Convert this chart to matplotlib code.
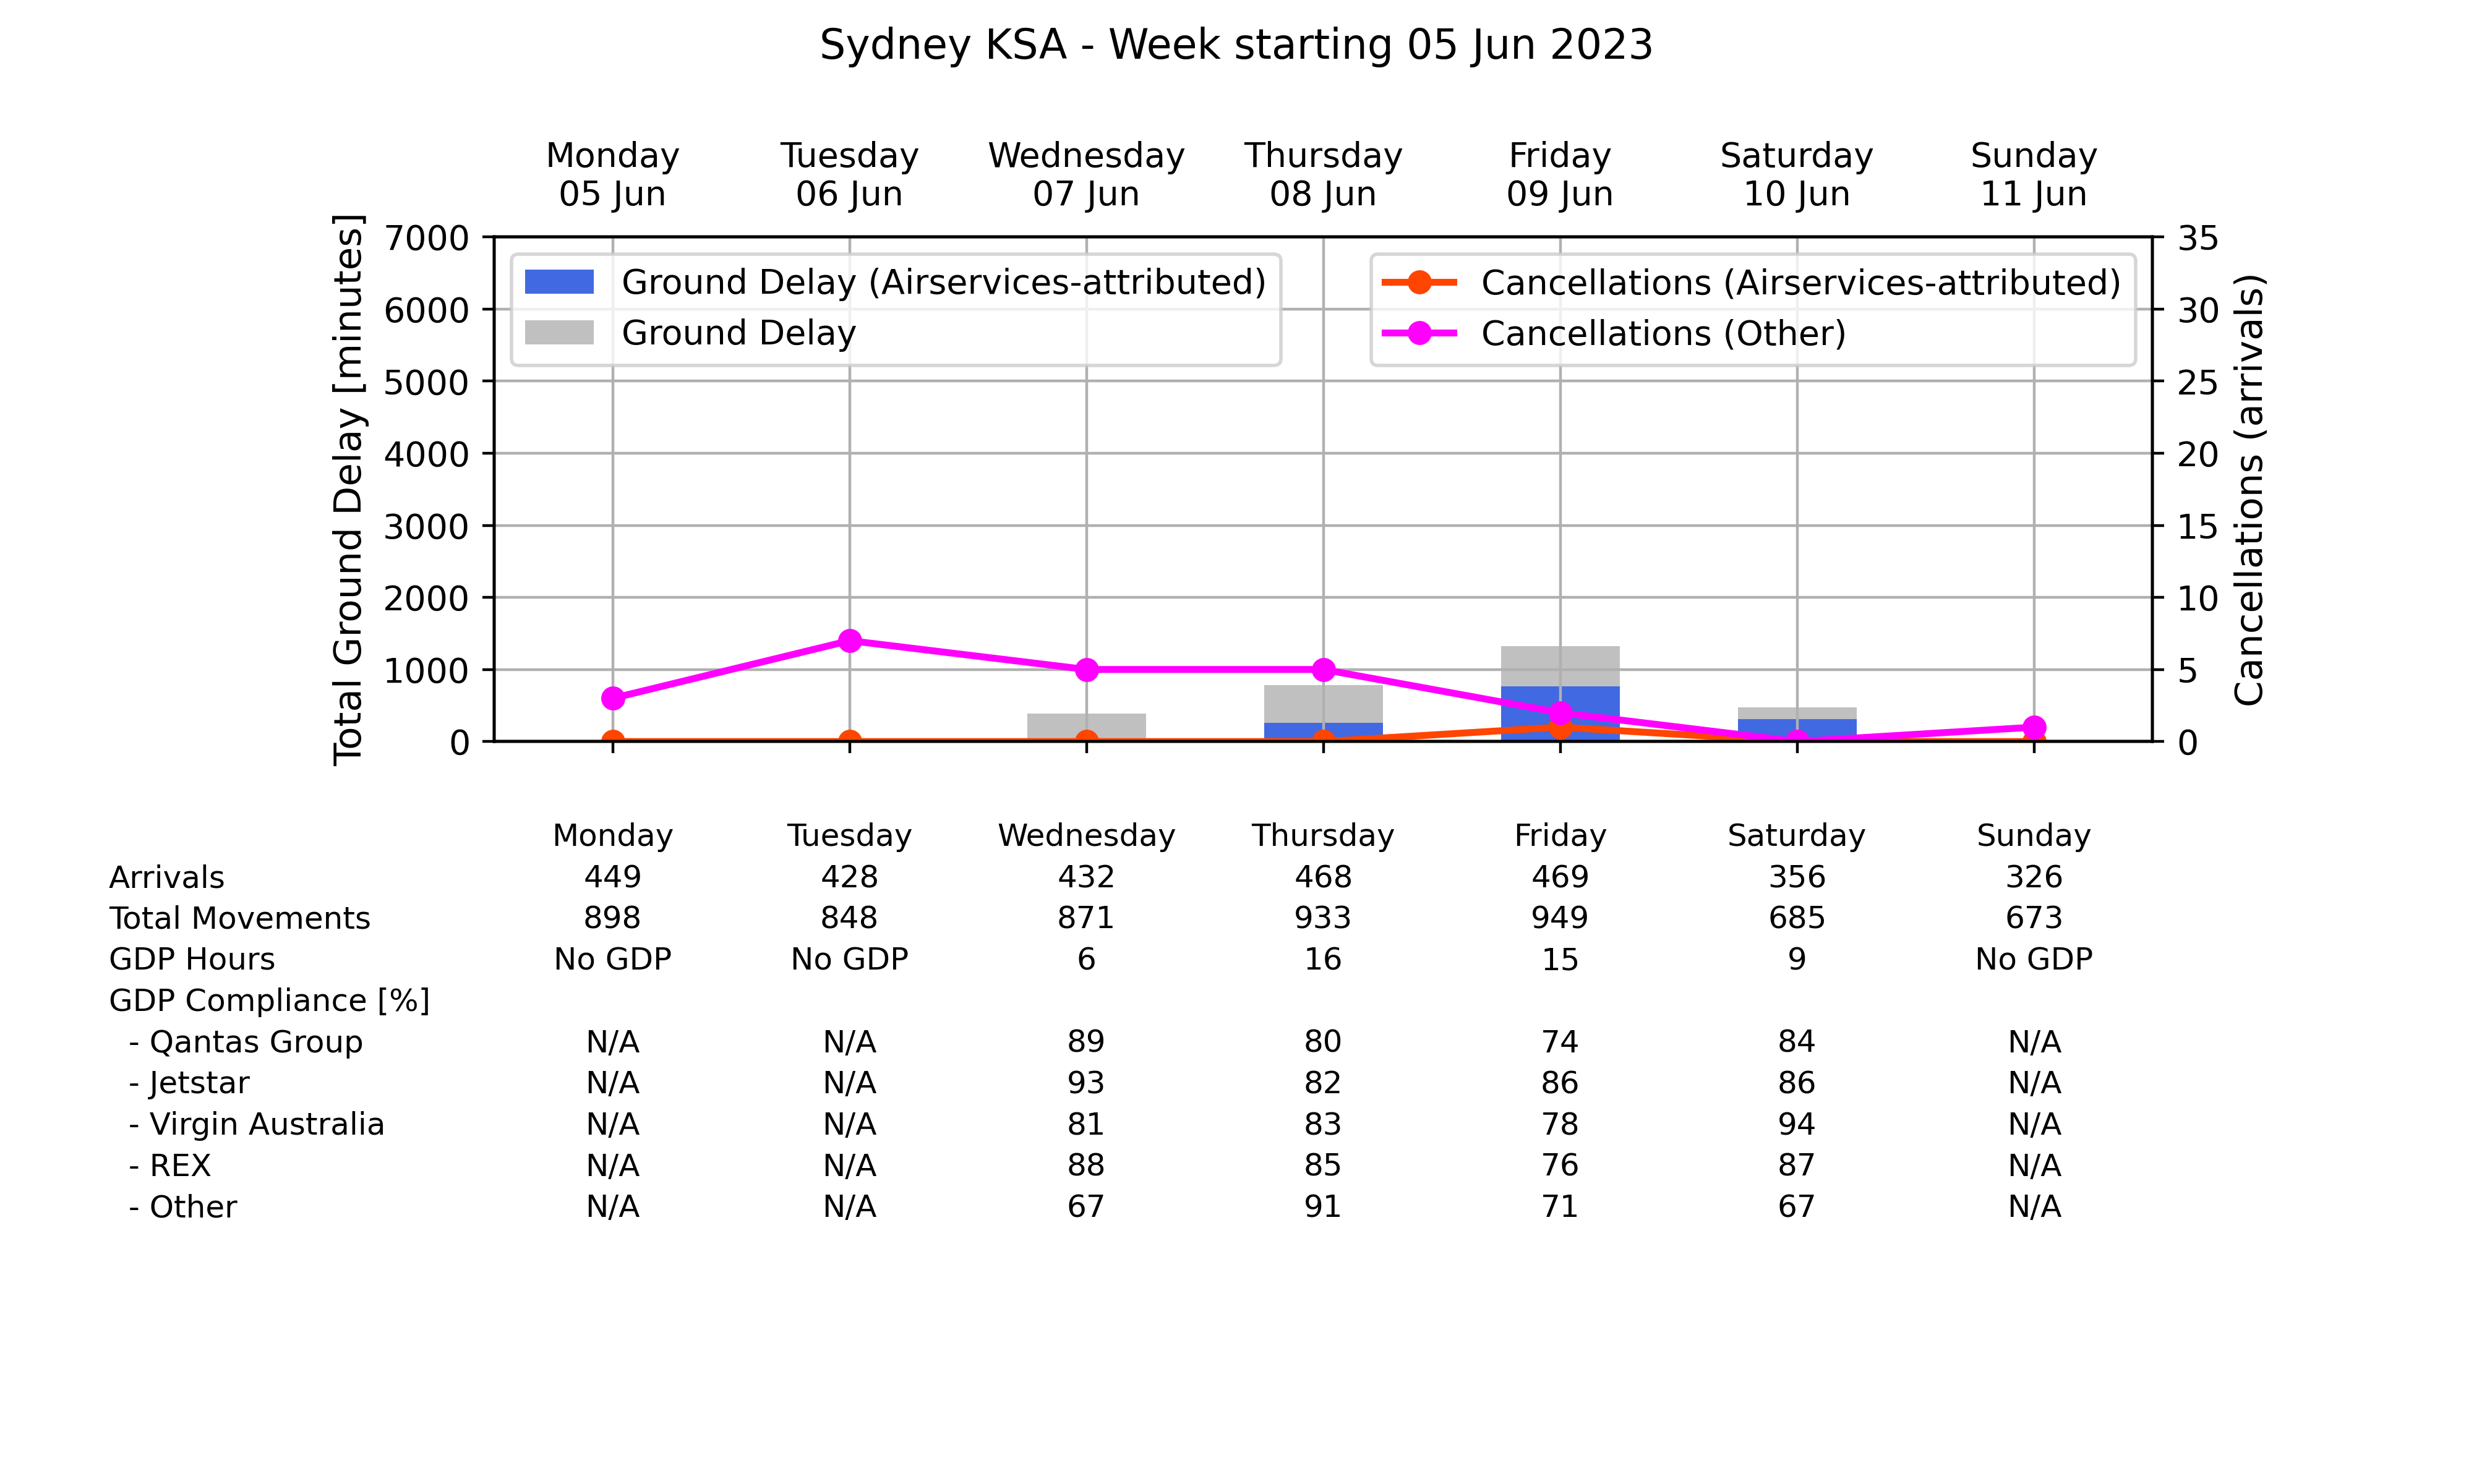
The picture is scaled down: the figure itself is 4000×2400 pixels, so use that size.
import matplotlib
matplotlib.use('Agg')
import matplotlib.pyplot as plt
import matplotlib.transforms as mtransforms

days = ['Monday', 'Tuesday', 'Wednesday', 'Thursday', 'Friday', 'Saturday', 'Sunday']
dates = ['05 Jun', '06 Jun', '07 Jun', '08 Jun', '09 Jun', '10 Jun', '11 Jun']

ground_delay_total = [0, 0, 390, 785, 1320, 470, 0]
ground_delay_asa = [0, 0, 0, 260, 770, 315, 0]
canx_asa = [0, 0, 0, 0, 1, 0, 0]
canx_other = [3, 7, 5, 5, 2, 0, 1]

row_labels = ['Arrivals', 'Total Movements', 'GDP Hours', 'GDP Compliance [%]',
              '  - Qantas Group', '  - Jetstar', '  - Virgin Australia', '  - REX', '  - Other']
arrivals = ['449', '428', '432', '468', '469', '356', '326']
movements = ['898', '848', '871', '933', '949', '685', '673']
gdp_hours = ['No GDP', 'No GDP', '6', '16', '15', '9', 'No GDP']
compliance_header = [''] * 7
qantas = ['N/A', 'N/A', '89', '80', '74', '84', 'N/A']
jetstar = ['N/A', 'N/A', '93', '82', '86', '86', 'N/A']
virgin = ['N/A', 'N/A', '81', '83', '78', '94', 'N/A']
rex = ['N/A', 'N/A', '88', '85', '76', '87', 'N/A']
other = ['N/A', 'N/A', '67', '91', '71', '67', 'N/A']
table_rows = [arrivals, movements, gdp_hours, compliance_header, qantas, jetstar, virgin, rex, other]

x = list(range(len(days)))

fig = plt.figure(figsize=(10, 6), dpi=400)
ax = fig.add_axes([0.1998, 0.5003, 0.6703, 0.340])

b_total = ax.bar(x, ground_delay_total, width=0.5, color='silver', label='Ground Delay')
b_asa = ax.bar(x, ground_delay_asa, width=0.5, color='royalblue', label='Ground Delay (Airservices-attributed)')
ax.set_xlim(-0.5, 6.5)
ax.set_ylim(0, 7000)
ax.set_yticks(range(0, 7001, 1000))
ax.set_xticks(x)
ax.set_xticklabels([])
ax.grid(True)
ax.set_ylabel('Total Ground Delay [minutes]', fontsize=11)
ax.tick_params(labelsize=10)
ax.legend(handles=[b_asa, b_total], loc='upper left', fontsize=10)

ax2 = ax.twinx()
l1, = ax2.plot(x, canx_asa, color='orangered', marker='o', lw=2, label='Cancellations (Airservices-attributed)')
l2, = ax2.plot(x, canx_other, color='magenta', marker='o', lw=2, label='Cancellations (Other)')
ax2.set_ylim(0, 35)
ax2.set_yticks(range(0, 36, 5))
ax2.set_ylabel('Cancellations (arrivals)', fontsize=11)
ax2.tick_params(labelsize=10)
ax2.legend(handles=[l1, l2], loc='upper right', fontsize=10)

top = ax.twiny()
top.set_xlim(ax.get_xlim())
top.set_xticks(x)
top.set_xticklabels([d + '\n' + dt for d, dt in zip(days, dates)], fontsize=10)
top.tick_params(length=0, pad=7)

fig.suptitle('Sydney KSA - Week starting 05 Jun 2023', fontsize=12, y=0.982)

# summary table below the plot (x from data, y in figure fraction)
trans = mtransforms.blended_transform_factory(ax.transData, fig.transFigure)
y_head = 0.42986
step = 0.02778
for i, d in enumerate(days):
    fig.text(i, y_head, d, transform=trans, ha='center', va='baseline', fontsize=9)
for r, (lab, vals) in enumerate(zip(row_labels, table_rows)):
    yy = y_head - step * (r + 1)
    fig.text(0.044, yy, lab, ha='left', va='baseline', fontsize=9)
    for i, v in enumerate(vals):
        fig.text(i, yy, v, transform=trans, ha='center', va='baseline', fontsize=9)

fig.savefig('out.png', dpi=400)
